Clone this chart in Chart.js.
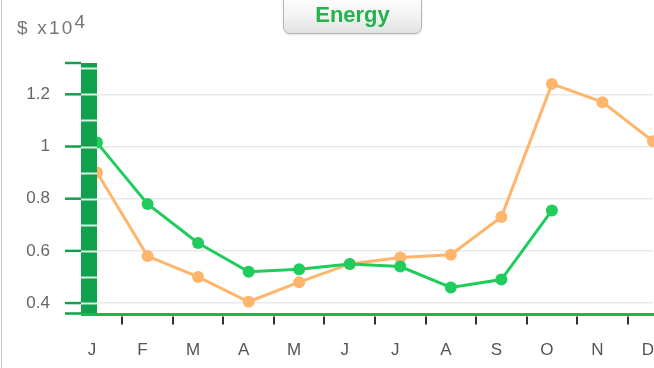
<!DOCTYPE html>
<html>
<head>
<meta charset="utf-8">
<script src="https://cdn.jsdelivr.net/npm/chart.js@4/dist/chart.umd.min.js"></script>
<style>
  html, body { margin: 0; padding: 0; background: #fff; }
  #wrap { position: relative; width: 654px; height: 368px; overflow: hidden; }
  #chart { position: absolute; left: 0; top: 0; }
  #frame { position: absolute; left: 1px; top: 0; width: 1px; height: 368px; background: #c9c9c9; }
  #title {
    position: absolute; left: 283px; top: -7px; width: 137px; height: 37px;
    border: 1px solid #b3b3b3; border-radius: 7px;
    background: linear-gradient(#ffffff, #f3f3f3 55%, #e2e2e2);
    box-shadow: 0 1px 2px rgba(0,0,0,0.12);
    font: bold 22px "Liberation Sans", Arial, sans-serif; color: #22b34c;
    text-align: center; line-height: 37px; padding-top: 2px; box-sizing: content-box;
  }
  #unit {
    position: absolute; left: 17px; top: 17px;
    font: 19px "Liberation Sans", Arial, sans-serif; color: #777; letter-spacing: 2.2px;
  }
  #unit span { position: relative; top: -6px; }
</style>
</head>
<body>
<div id="wrap">
  <canvas id="chart" width="654" height="368"></canvas>
  <div id="frame"></div>
  <div id="title">Energy</div>
  <div id="unit">$ x10<span>4</span></div>
</div>
<script>
// Monthly energy cost, in units of $10,000
const months = ['J', 'F', 'M', 'A', 'M', 'J', 'J', 'A', 'S', 'O', 'N', 'D'];
const greenSeries = [1.015, 0.78, 0.63, 0.52, 0.53, 0.55, 0.54, 0.46, 0.49, 0.755, null, null];
const orangeSeries = [0.90, 0.58, 0.50, 0.405, 0.48, 0.55, 0.575, 0.585, 0.73, 1.24, 1.17, 1.02];
const yTickValues = [0.4, 0.6, 0.8, 1.0, 1.2];
const yTickLabels = ['0.4', '0.6', '0.8', '1', '1.2'];
const yMin = 0.36;
const yMax = 1.32;
const barStripeStep = 0.1;

const GREEN = '#1fcc5c';
const ORANGE = '#ffb56b';
const BAR_GREEN = '#11a04e';
const AXIS_GREEN = '#22b24f';

// Thick striped bar along the value axis, axis lines and tick marks
const axisDecor = {
  id: 'axisDecor',
  afterDatasetsDraw(chart) {
    const { ctx, chartArea, scales } = chart;
    const y = scales.y, x = scales.x;
    const barL = chartArea.left - 16, barR = chartArea.left;
    const top = y.getPixelForValue(yMax), bottom = y.getPixelForValue(yMin);
    ctx.save();
    // bar body
    ctx.fillStyle = BAR_GREEN;
    ctx.fillRect(barL, top, barR - barL, bottom - top + 2);
    // white stripes every 0.1
    ctx.strokeStyle = 'rgba(255,255,255,0.85)';
    ctx.lineWidth = 2;
    for (let v = 0.4; v <= 1.3001; v += barStripeStep) {
      const py = Math.round(y.getPixelForValue(v)) + 0.5;
      ctx.beginPath(); ctx.moveTo(barL, py); ctx.lineTo(barR, py); ctx.stroke();
    }
    // left tick marks
    ctx.strokeStyle = BAR_GREEN;
    ctx.lineWidth = 2.5;
    const tickVals = [yMax].concat(yTickValues, [yMin]);
    tickVals.forEach(v => {
      const py = y.getPixelForValue(v);
      ctx.beginPath(); ctx.moveTo(barL - 16, py); ctx.lineTo(barL, py); ctx.stroke();
    });
    // category axis line
    ctx.strokeStyle = AXIS_GREEN;
    ctx.lineWidth = 3;
    ctx.beginPath(); ctx.moveTo(barL, bottom + 1); ctx.lineTo(chart.width, bottom + 1); ctx.stroke();
    // category tick marks between months
    ctx.strokeStyle = '#333';
    ctx.lineWidth = 2;
    for (let i = 0; i < months.length - 1; i++) {
      const px = Math.round((x.getPixelForValue(i) + x.getPixelForValue(i + 1)) / 2);
      ctx.beginPath(); ctx.moveTo(px, bottom + 3); ctx.lineTo(px, bottom + 11); ctx.stroke();
    }
    ctx.restore();
  }
};

new Chart(document.getElementById('chart'), {
  type: 'line',
  data: {
    labels: months,
    datasets: [
      {
        data: greenSeries, borderColor: GREEN, backgroundColor: GREEN,
        borderWidth: 3, pointRadius: 6, pointHoverRadius: 6, pointBorderWidth: 0,
        tension: 0, clip: false, spanGaps: false
      },
      {
        data: orangeSeries, borderColor: ORANGE, backgroundColor: ORANGE,
        borderWidth: 3, pointRadius: 6, pointHoverRadius: 6, pointBorderWidth: 0,
        tension: 0, clip: false
      }
    ]
  },
  options: {
    responsive: false,
    animation: false,
    layout: { autoPadding: false, padding: { top: 63, right: 1, bottom: 0, left: 0 } },
    plugins: { legend: { display: false }, title: { display: false }, tooltip: { enabled: false } },
    scales: {
      x: {
        offset: false,
        grid: { display: false },
        border: { display: false },
        ticks: {
          color: '#555', font: { family: 'Liberation Sans', size: 17 },
          padding: 19, labelOffset: -5, autoSkip: false, maxRotation: 0
        },
        afterFit(scale) {
          scale.height = 54.5;
          scale.paddingLeft = 0;
          scale.paddingRight = 0;
        }
      },
      y: {
        min: yMin, max: yMax,
        grid: { color: '#e9e9e9', lineWidth: 1.5, drawTicks: false },
        border: { display: false },
        ticks: {
          color: '#666', font: { family: 'Liberation Sans', size: 17 }, padding: 47,
          callback: (value) => {
            const i = yTickValues.findIndex(v => Math.abs(v - value) < 1e-6);
            return i >= 0 ? yTickLabels[i] : '';
          }
        },
        afterBuildTicks(scale) { scale.ticks = yTickValues.map(v => ({ value: v })); },
        afterFit(scale) { scale.width = 97; scale.paddingTop = 0; scale.paddingBottom = 0; }
      }
    }
  },
  plugins: [axisDecor]
});
</script>
</body>
</html>
